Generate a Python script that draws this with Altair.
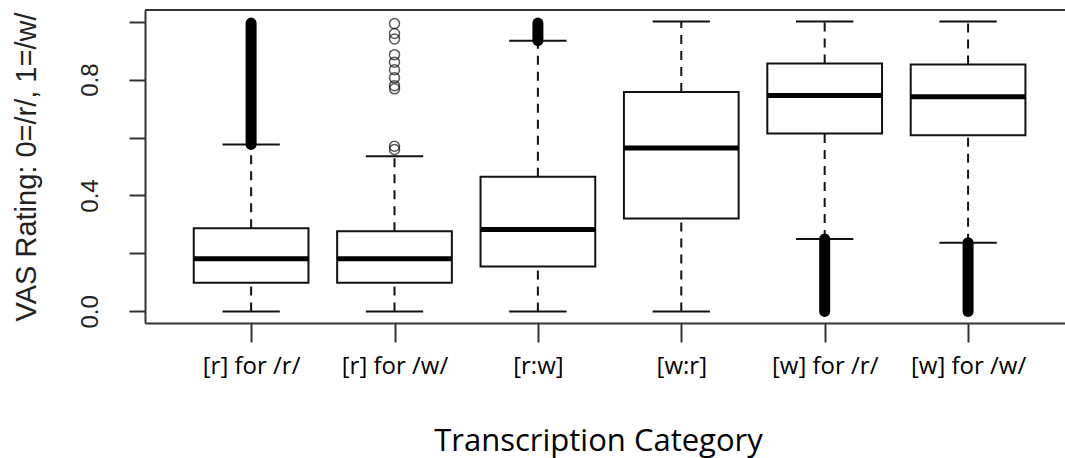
import json
import altair as alt
import pandas as pd

# Box summaries per transcription category (VAS rating, 0=/r/, 1=/w/)
categories = ["[r] for /r/", "[r] for /w/", "[r:w]", "[w:r]", "[w] for /r/", "[w] for /w/"]
q1 = [0.099, 0.099, 0.155, 0.321, 0.614, 0.608]
median = [0.182, 0.182, 0.283, 0.564, 0.745, 0.741]
q3 = [0.287, 0.277, 0.465, 0.757, 0.855, 0.852]
whisker_lo = [0.0, 0.0, 0.0, 0.0, 0.250, 0.237]
whisker_hi = [0.576, 0.535, 0.934, 1.0, 1.0, 1.0]

# Outlier runs so dense that the circles merge into a solid column (low, high)
dense_lo = [0.576, None, 0.934, None, 0.0, 0.0]
dense_hi = [0.995, None, 0.995, None, 0.250, 0.237]

# Individual outliers for "[r] for /w/"
sparse_cat = [2] * 11
sparse_val = [0.993, 0.959, 0.940, 0.886, 0.860, 0.834, 0.806, 0.779, 0.768, 0.570, 0.559]

pos = list(range(1, len(categories) + 1))
boxes = pd.DataFrame({
    "pos": pos, "cat": categories, "q1": q1, "median": median, "q3": q3,
    "lo": whisker_lo, "hi": whisker_hi,
})
dense = pd.DataFrame({"pos": pos, "lo": dense_lo, "hi": dense_hi}).dropna()
sparse = pd.DataFrame({"pos": sparse_cat, "val": sparse_val})

HALF_BOX = 0.4
HALF_CAP = 0.2
INK = "#111111"
FRAME = "#333333"

x_scale = alt.Scale(domain=[0.26, 6.676], nice=False, zero=False)
y_scale = alt.Scale(domain=[-0.04, 1.04], nice=False, zero=False)

label_expr = json.dumps(categories) + "[datum.value - 1]"

x_axis = alt.Axis(
    values=pos, labelExpr=label_expr, title="Transcription Category",
    grid=False, domainColor=FRAME, domainWidth=2, tickColor=FRAME, tickWidth=2,
    tickSize=19, labelFont="Open Sans", labelFontSize=24, labelColor="#000000",
    labelBaseline="alphabetic", labelPadding=31, labelAlign="center",
    labelFlush=False, labelOverlap=False, labelBound=False,
    titleFont="Open Sans", titleFontSize=31, titleFontWeight="normal",
    titleColor="#000000", titleBaseline="alphabetic", titleAlign="center",
    titleX=453, titleY=127, titleAngle=0,
)
y_axis = alt.Axis(
    values=[0, 0.2, 0.4, 0.6, 0.8, 1.0],
    labelExpr="(round(datum.value * 10) % 4 == 0) ? format(datum.value, '.1f') : ''",
    title="VAS Rating: 0=/r/, 1=/w/",
    grid=False, domainColor=FRAME, domainWidth=2, tickColor=FRAME, tickWidth=2,
    tickSize=16, labelFont="Liberation Sans", labelFontSize=24, labelColor="#222222",
    labelAngle=270, labelAlign="center", labelBaseline="alphabetic", labelPadding=32,
    labelOverlap=False, labelFlush=False, labelBound=False,
    titleFont="Liberation Sans", titleFontSize=29, titleFontWeight="normal",
    titleColor="#222222", titleAngle=270, titleAlign="center",
    titleBaseline="alphabetic", titleX=-110, titleY=156.5,
)

base = alt.Chart(boxes).transform_calculate(
    left=f"datum.pos - {HALF_BOX}", right=f"datum.pos + {HALF_BOX}",
    cl=f"datum.pos - {HALF_CAP}", cr=f"datum.pos + {HALF_CAP}",
)

dash = [9, 7]
upper_whisker = base.mark_rule(color=INK, strokeWidth=2, strokeDash=dash).encode(
    x=alt.X("pos:Q", scale=x_scale, axis=x_axis),
    y=alt.Y("q3:Q", scale=y_scale, axis=y_axis),
    y2="hi:Q",
)
lower_whisker = base.mark_rule(color=INK, strokeWidth=2, strokeDash=dash).encode(
    x="pos:Q", y="lo:Q", y2="q1:Q",
)
cap_hi = base.mark_rule(color=INK, strokeWidth=2).encode(
    x="cl:Q", x2="cr:Q", y="hi:Q",
)
cap_lo = base.mark_rule(color=INK, strokeWidth=2).encode(
    x="cl:Q", x2="cr:Q", y="lo:Q",
)
box = base.mark_rect(fill="white", stroke=INK, strokeWidth=2).encode(
    x="left:Q", x2="right:Q", y="q1:Q", y2="q3:Q",
)
med = base.mark_rule(color="#000000", strokeWidth=5).encode(
    x="left:Q", x2="right:Q", y="median:Q",
)
dense_runs = alt.Chart(dense).mark_rule(
    color="#000000", strokeWidth=11, strokeCap="round"
).encode(x="pos:Q", y="lo:Q", y2="hi:Q")
points = alt.Chart(sparse).mark_point(
    shape="circle", filled=False, size=100, color=INK, strokeWidth=1.5
).encode(x="pos:Q", y="val:Q")
top_frame = alt.Chart(boxes).mark_rule(color=FRAME, strokeWidth=2).encode(
    y=alt.value(0)
)

chart = alt.layer(
    upper_whisker, lower_whisker, cap_hi, cap_lo, box, med, dense_runs, points, top_frame
).properties(
    width=920, height=313,
    autosize=alt.AutoSizeParams(type="none"),
    padding={"left": 145, "top": 10, "right": 0, "bottom": 135},
    background="white",
).configure_view(stroke=None)

chart.save("out.html", embed_options={"renderer": "svg", "actions": False})
